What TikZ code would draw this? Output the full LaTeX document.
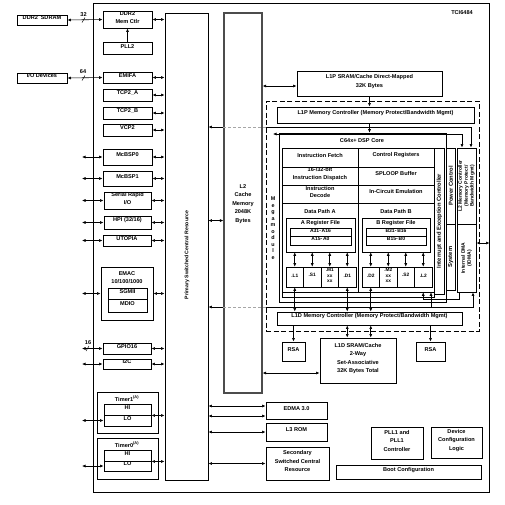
\documentclass[tikz,border=0pt]{standalone}
\usepackage{fontspec}
\setmainfont{Liberation Sans}
\usetikzlibrary{arrows.meta,positioning,calc,fit}
\tikzset{
  >={Latex[length=3.5pt,width=3pt]},
  txt/.style={font=\fontsize{5.6}{7.3}\selectfont\bfseries, align=center, inner sep=0pt},
  spaced/.style={font=\fontsize{5.6}{8.5}\selectfont\bfseries},
  blk/.style={txt, draw, line width=0.9pt},
  cell/.style={txt, draw, line width=0.6pt},
  unit/.style={cell, font=\fontsize{4.8}{5.3}\selectfont\bfseries},
  regbox/.style={cell, font=\fontsize{5}{5.5}\selectfont\bfseries},
  vtxt/.style={txt, rotate=90},
  vside/.style={vtxt, font=\fontsize{5.8}{7}\selectfont\bfseries},
  vnarrow/.style={vtxt, font=\fontsize{5}{5.9}\selectfont\bfseries},
  link/.style={<->, line width=0.6pt},
  oneway/.style={->, line width=0.6pt},
  cfgline/.style={gray!70, line width=0.6pt, dash pattern=on 3pt off 2pt},
  mega/.style={draw, inner sep=0pt, line width=0.9pt, dash pattern=on 5pt off 2.5pt},
}
\begin{document}
\begin{tikzpicture}[x=1pt, y=-1pt]
\useasboundingbox (0,0) rectangle (505,504);

% device outline
\node[draw, line width=1pt, inner sep=0pt, fit={(93,3) (489,492)}] (chip) {};
\node[txt] (partno) at (462,13) {TCI6484};

% off-chip
\node[blk, fit={(17,15) (67,25)}] (sdram) {DDR2\enspace SDRAM};
\node[blk, fit={(17,73) (67,83)}] (iodev) {I/O Devices};
\coordinate (pin) at (82,0);

% peripherals
\node[blk, fit={(103,11) (152,28)}] (ddrctl) {DDR2\\Mem Ctlr};
\node[blk, fit={(103,42) (152,54)}] (pll2) {PLL2};
\node[blk, fit={(103,72) (152,83)}] (emifa) {EMIFA};
\node[blk, fit={(103,89) (152,101)}] (tcpa) {TCP2\_A};
\node[blk, fit={(103,107) (152,119)}] (tcpb) {TCP2\_B};
\node[blk, fit={(103,124) (152,136)}] (vcp) {VCP2};
\node[blk, fit={(103,149) (152,165)}] (mcbsp0) {McBSP0};
\node[blk, fit={(103,171) (152,186)}] (mcbsp1) {McBSP1};
\node[blk, fit={(104,192) (151,209)}] (srio) {Serial Rapid\\I/O};
\node[blk, fit={(104,216) (151,229)}] (hpi) {HPI (32/16)};
\node[blk, fit={(103,235) (151,246)}] (utopia) {UTOPIA};
\node[blk, fit={(101,267) (153,320)}] (emac) {};
\node[txt, spaced] (emaclbl) at (127,277.5) {EMAC\\10/100/1000};
\node[blk, fit={(108,288) (147,299)}] (sgmii) {SGMII};
\node[blk, fit={(108,299) (147,312)}] (mdio) {MDIO};
\node[blk, fit={(103,343) (151,354)}] (gpio) {GPIO16};
\node[blk, fit={(103,359) (151,369)}] (iic) {I2C};

% timers
\node[blk, fit={(97,392) (158,433)}] (tmr1) {};
\node[txt] (tmr1lbl) at (127,398.5) {Timer1\textsuperscript{(A)}};
\node[blk, fit={(104,404) (151,415)}] (hi1) {HI};
\node[blk, fit={(104,415) (151,426)}] (lo1) {LO};
\node[blk, fit={(97,438) (158,479)}] (tmr0) {};
\node[txt] (tmr0lbl) at (127,444.5) {Timer0\textsuperscript{(A)}};
\node[blk, fit={(104,450) (151,461)}] (hi0) {HI};
\node[blk, fit={(104,461) (151,471)}] (lo0) {LO};

% switched resource and L2
\node[blk, fit={(165,13) (208,480)}] (pscr) {};
\node[vtxt, font=\fontsize{5.2}{7}\selectfont\bfseries] (pscrlbl) at (187,255) {Primary Switched Central Resource};
\node[draw, gray!60!black, line width=1.2pt, inner sep=0pt, fit={(224,13) (262,393)}] (l2) {};
\node[txt, spaced] (l2lbl) at (243,204) {L2\\Cache\\Memory\\2048K\\Bytes};

% megamodule
\node[mega, fit={(266,101) (479,331)}] (mm) {};
\node[txt, font=\fontsize{5.4}{6.5}\selectfont\bfseries] (mmlbl) at (273,228) {M\\e\\g\\a\\m\\o\\d\\u\\l\\e};
\node[blk, spaced, fit={(297,71) (442,96)}] (l1p) {L1P SRAM/Cache Direct-Mapped\\32K Bytes};
\node[blk, fit={(277,107) (474,123)}] (l1pmc) {L1P Memory Controller (Memory Protect/Bandwidth Mgmt)};

\node[cell, fit={(279,133) (446,302)}] (core) {};
\node[txt] (corelbl) at (362,141) {C64x+ DSP Core};
\node[cell, fit={(282,148) (434,297)}] (cpu) {};
\node[cell, fit={(282,148) (358,167)}] (fetch) {Instruction Fetch};
\node[cell, fit={(282,167) (358,185)}] (dispatch) {16-/32-bit\\Instruction Dispatch};
\node[cell, fit={(282,185) (358,203)}] (decode) {Instruction\\Decode};
\node[cell, fit={(282,203) (358,292)}] (dpa) {};
\node[cell, fit={(358,148) (434,167)}] (ctlreg) {Control Registers};
\node[cell, fit={(358,167) (434,185)}] (sploop) {SPLOOP Buffer};
\node[cell, fit={(358,185) (434,203)}] (ice) {In-Circuit Emulation};
\node[cell, fit={(358,203) (434,292)}] (dpb) {};
\node[txt] (dpalbl) at (320,211) {Data Path A};
\node[txt] (dpblbl) at (396,211) {Data Path B};

\node[cell, fit={(286,218) (355,252)}] (rfa) {};
\node[txt] (rfalbl) at (320.5,223) {A Register File};
\node[regbox, fit={(290,228) (351,236.5)}] (ahi) {A31-\,A16};
\node[regbox, fit={(290,236.5) (351,245)}] (alo) {A15-\,A0};
\node[cell, fit={(362,218) (430,252)}] (rfb) {};
\node[txt] (rfblbl) at (396,223) {B Register File};
\node[regbox, fit={(366,228) (426,236.5)}] (bhi) {B31-\,B16};
\node[regbox, fit={(366,236.5) (426,245)}] (blo) {B15-\,B0};

\node[unit, fit={(286,267) (303.5,287)}] (la) {.L1};
\node[unit, fit={(303.5,267) (321,287)}] (sa) {.S1};
\node[unit, fit={(321,267) (338.5,287)}] (ma) {.M1\\xx\\xx};
\node[unit, fit={(338.5,267) (356,287)}] (da) {.D1};
\node[unit, fit={(362,267) (379.5,287)}] (db) {.D2};
\node[unit, fit={(379.5,267) (397,287)}] (mb) {.M2\\xx\\xx};
\node[unit, fit={(397,267) (414.5,287)}] (sb) {.S2};
\node[unit, fit={(414.5,267) (432,287)}] (lb) {.L2};

\node[cell, fit={(434,148) (444.5,294)}] (intc) {};
\node[vside] (intclbl) at (intc.center) {Interrupt and Exception Controller};
\node[cell, fit={(446,148) (455.5,224)}] (pwr) {};
\node[vside] (pwrlbl) at (pwr.center) {Power Control};
\node[cell, fit={(446,224) (455.5,290)}] (sysb) {};
\node[vside] (syslbl) at (sysb.center) {System};
\node[blk, fit={(457,148) (476,224)}] (l2mc) {};
\node[vnarrow] (l2mclbl) at (l2mc.center) {L2 Memory Controller\\(Memory Protect/\\Bandwidth Mgmt)};
\node[blk, fit={(457,224) (476,292)}] (idma) {};
\node[vnarrow] (idmalbl) at (idma.center) {Internal DMA\\(IDMA)};

\node[blk, fit={(277,312) (462,325)}] (l1dmc) {L1D Memory Controller (Memory Protect/Bandwidth Mgmt)};
\node[blk, spaced, fit={(320,338) (396,383)}] (l1d) {L1D SRAM/Cache\\2-Way\\Set-Associative\\32K Bytes Total};
\node[blk, fit={(282,342) (305,361)}] (rsa1) {RSA};
\node[blk, fit={(416,342) (445,361)}] (rsa2) {RSA};

% lower blocks
\node[blk, fit={(266,402) (327,419)}] (edma) {EDMA 3.0};
\node[blk, fit={(266,423) (327,441)}] (l3rom) {L3 ROM};
\node[blk, spaced, fit={(266,447) (329,480)}] (sscr) {Secondary\\Switched Central\\Resource};
\node[blk, spaced, fit={(371,427) (423,459)}] (pll1) {PLL1 and\\PLL1\\Controller};
\node[blk, spaced, fit={(431,427) (482,458)}] (devcfg) {Device\\Configuration\\Logic};
\node[blk, fit={(336,465) (481,479)}] (boot) {Boot Configuration};

% bus taps
\coordinate (l1ptap) at ($(l1p.west)+(0,2.5)$);
\coordinate (l2tap) at ($(pscr.north east)+(0,208)$);
\coordinate (l1dtap) at ($(l1d.west)+(0,12.5)$);
\coordinate (edmaa) at ($(edma.west)+(0,-4.5)$);
\coordinate (edmab) at ($(edma.west)+(0,5.5)$);
\coordinate (exttap) at ($(idma.east)+(0,-15)$);
\coordinate (cfgp) at (471,127);
\coordinate (cfgl) at (273,134);
\coordinate (cfgc) at (462,134);
\coordinate (busa) at (459,299.5);
\coordinate (busb) at (473,307);
\coordinate (tapb) at (431,307);

% external pins
\draw[link] (sdram.east) -- (ddrctl.west);
\node[txt] (w32) at (83.5,15) {32};
\draw[line width=0.5pt] (82,22.5) -- (85,17.5);
\draw[link] (iodev.east) -- (emifa.west);
\node[txt] (w64) at (83,72) {64};
\draw[line width=0.5pt] (82,80.5) -- (85,75.5);
\draw[link] (mcbsp0.west) -- (mcbsp0.west -| pin);
\draw[link] (mcbsp1.west) -- (mcbsp1.west -| pin);
\draw[link] (srio.west) -- (srio.west -| pin);
\draw[link] (hpi.west) -- (hpi.west -| pin);
\draw[link] (utopia.west) -- (utopia.west -| pin);
\draw[link] (emac.west) -- (emac.west -| pin);
\draw[link] (gpio.west) -- (gpio.west -| pin);
\node[txt] (w16) at (88,343) {16};
\draw[line width=0.5pt] (86,351) -- (89,346);
\draw[link] (iic.west) -- (iic.west -| pin);
\draw[link] (lo1.west) -- (lo1.west -| pin);
\draw[link] (lo0.west) -- (lo0.west -| pin);
\draw[oneway] (pll2.north) -- (ddrctl.south);

% peripherals to primary switched central resource
\draw[link] (ddrctl.east) -- (ddrctl.east -| pscr.west);
\draw[link] (emifa.east) -- (emifa.east -| pscr.west);
\draw[link] (tcpa.east) -- (tcpa.east -| pscr.west);
\draw[link] (tcpb.east) -- (tcpb.east -| pscr.west);
\draw[link] (vcp.east) -- (vcp.east -| pscr.west);
\draw[link] (mcbsp0.east) -- (mcbsp0.east -| pscr.west);
\draw[link] (mcbsp1.east) -- (mcbsp1.east -| pscr.west);
\draw[link] (srio.east) -- (srio.east -| pscr.west);
\draw[link] (hpi.east) -- (hpi.east -| pscr.west);
\draw[link] (utopia.east) -- (utopia.east -| pscr.west);
\draw[link] (emac.east) -- (emac.east -| pscr.west);
\draw[link] (gpio.east) -- (gpio.east -| pscr.west);
\draw[link] (iic.east) -- (iic.east -| pscr.west);
\draw[link] (hi1.south east) -- (hi1.south east -| pscr.west);
\draw[link] (hi0.south east) -- (hi0.south east -| pscr.west);

% L2 and lower blocks
\draw[link] (l2tap) -- (l2tap -| l2.west);
\draw[link] (l1ptap) -- (l1ptap -| l2.east);
\draw[link] (l1dtap) -- (l1dtap -| l2.east);
\draw[link] (edmaa) -- (edmaa -| pscr.east);
\draw[link] (edmab) -- (edmab -| pscr.east);
\draw[link] (l3rom.west) -- (l3rom.west -| pscr.east);
\draw[link] (sscr.west) -- (sscr.west -| pscr.east);
\draw[link] (exttap) -- (exttap -| chip.east);

% megamodule paths
\draw[oneway] (l1p.south) -- (l1p.south |- l1pmc.north);
\draw[oneway] (l1p.south |- l1pmc.south) -- (l1p.south |- core.north);
\draw[<-, line width=0.6pt] (pscr.east |- cfgp) -- (l2.west |- cfgp);
\draw[cfgline] (l2.west |- cfgp) -- (mm.west |- cfgp);
\draw[oneway] (mm.west |- cfgp) -- (cfgp) -- (cfgp |- l2mc.north);
\draw[link] (cfgl) -- (cfgc) -- (cfgc |- l2mc.north);

\draw[link] (la.north) -- (la.north |- rfa.south);
\draw[link] (sa.north) -- (sa.north |- rfa.south);
\draw[link] (ma.north) -- (ma.north |- rfa.south);
\draw[link] (da.north) -- (da.north |- rfa.south);
\draw[link] (db.north) -- (db.north |- rfb.south);
\draw[link] (mb.north) -- (mb.north |- rfb.south);
\draw[link] (sb.north) -- (sb.north |- rfb.south);
\draw[link] (lb.north) -- (lb.north |- rfb.south);

\draw[link] (la.south) -- (la.south |- l1dmc.north);
\draw[link] (da.south) -- (da.south |- l1dmc.north);
\draw[link] (db.south) -- (db.south |- l1dmc.north);
\draw[link] (da.south |- l1dmc.south) -- (da.south |- l1d.north);
\draw[link] (db.south |- l1dmc.south) -- (db.south |- l1d.north);
\draw[oneway] (rsa1.north |- l1dmc.south) -- (rsa1.north);
\draw[oneway] (rsa2.north |- l1dmc.south) -- (rsa2.north);

\draw[oneway] (busa |- idma.south) -- (busa) -- (lb.south |- busa) -- (lb.south |- dpb.south);
\draw[<-, line width=0.6pt] (pscr.east |- busb) -- (l2.west |- busb);
\draw[cfgline] (l2.west |- busb) -- (mm.west |- busb);
\draw[oneway] (mm.west |- busb) -- (busb) -- (busb |- idma.south);
\draw[oneway] (tapb) -- (tapb |- dpb.south);
\end{tikzpicture}
\end{document}
